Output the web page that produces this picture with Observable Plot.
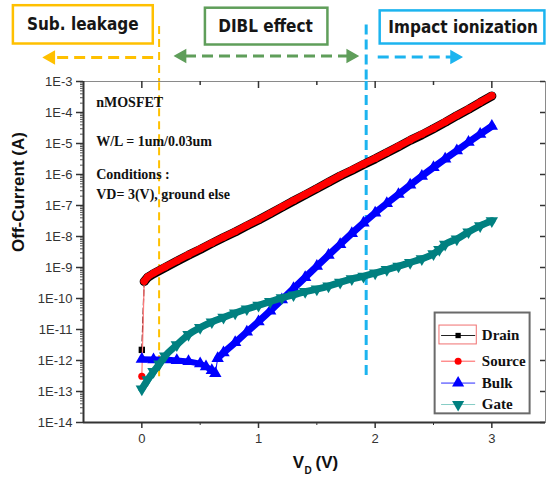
<!DOCTYPE html>
<html>
<head>
<meta charset="utf-8">
<script src="https://cdn.jsdelivr.net/npm/d3@7"></script>
<script src="https://cdn.jsdelivr.net/npm/@observablehq/plot@0.6"></script>
<style>
  body { margin: 0; background: #fff; }
  #chart { width: 546px; height: 479px; overflow: hidden; }
  #chart svg { display: block; overflow: visible; }
</style>
</head>
<body>
<div id="chart"></div>
<script>
// Off-state current of an nMOSFET (W/L = 1um/0.03um) versus drain voltage,
// measured at each terminal with VD = 3 V and everything else grounded.

const drainV = [0, 0.02, 0.05, 0.1, 0.2, 0.3, 0.4, 0.5, 0.6, 0.7, 0.8, 0.9, 1.0, 1.1, 1.2, 1.3, 1.4,
  1.5, 1.6, 1.7, 1.8, 1.9, 2.0, 2.1, 2.2, 2.3, 2.4, 2.5, 2.6, 2.7, 2.8, 2.9, 3.0];
const drainI = [2.2e-12, 3.5e-10, 4.8e-10, 6.3e-10, 1.0e-9, 1.6e-9, 2.5e-9, 3.8e-9, 6.0e-9, 9.3e-9,
  1.4e-8, 2.2e-8, 3.4e-8, 5.4e-8, 8.7e-8, 1.4e-7, 2.2e-7, 3.5e-7, 5.6e-7, 8.9e-7, 1.35e-6, 2.1e-6,
  3.2e-6, 5.0e-6, 7.9e-6, 1.26e-5, 1.9e-5, 3.0e-5, 4.8e-5, 7.9e-5, 1.26e-4, 2.1e-4, 3.4e-4];

const sourceV = drainV;
const sourceI = [3.1e-13, 3.6e-10, 5.0e-10, 6.6e-10, 1.05e-9, 1.65e-9, 2.6e-9, 4.0e-9, 6.2e-9, 9.6e-9,
  1.45e-8, 2.3e-8, 3.5e-8, 5.6e-8, 9.0e-8, 1.45e-7, 2.3e-7, 3.6e-7, 5.8e-7, 9.2e-7, 1.4e-6, 2.2e-6,
  3.3e-6, 5.2e-6, 8.2e-6, 1.3e-5, 2.0e-5, 3.1e-5, 5.0e-5, 8.1e-5, 1.3e-4, 2.15e-4, 3.5e-4];

const bulkV = [0, 0.1, 0.2, 0.3, 0.4, 0.5, 0.55, 0.6, 0.63, 0.65, 0.7, 0.8, 0.9, 1.0, 1.1, 1.2, 1.3,
  1.4, 1.5, 1.6, 1.7, 1.8, 1.9, 2.0, 2.1, 2.2, 2.3, 2.4, 2.5, 2.6, 2.7, 2.8, 2.9, 3.0];
const bulkI = [1.1e-12, 1.07e-12, 1.07e-12, 1.0e-12, 9.3e-13, 7.9e-13, 6.3e-13, 4.8e-13, 3.8e-13,
  1.17e-12, 1.8e-12, 3.8e-12, 8.3e-12, 1.8e-11, 4.0e-11, 9.1e-11, 2.1e-10, 4.8e-10, 1.1e-9, 2.5e-9,
  5.6e-9, 1.26e-8, 2.75e-8, 5.8e-8, 1.17e-7, 2.3e-7, 4.6e-7, 8.9e-7, 1.7e-6, 3.2e-6, 5.9e-6, 1.1e-5,
  2.0e-5, 3.6e-5];

const gateV = [0, 0.05, 0.1, 0.15, 0.2, 0.3, 0.4, 0.5, 0.6, 0.7, 0.8, 0.9, 1.0, 1.1, 1.2, 1.3, 1.4,
  1.5, 1.6, 1.7, 1.8, 1.9, 2.0, 2.1, 2.2, 2.3, 2.4, 2.5, 2.55, 2.6, 2.7, 2.8, 2.9, 3.0];
const gateI = [1.2e-13, 2.4e-13, 4.4e-13, 7.6e-13, 1.4e-12, 3.2e-12, 6.9e-12, 1.15e-11, 1.75e-11,
  2.45e-11, 3.4e-11, 4.6e-11, 6.0e-11, 7.9e-11, 1.05e-10, 1.3e-10, 1.66e-10, 2.0e-10, 2.5e-10,
  3.3e-10, 4.3e-10, 5.2e-10, 6.6e-10, 8.5e-10, 1.1e-9, 1.45e-9, 1.9e-9, 2.75e-9, 3.8e-9, 5.6e-9,
  8.3e-9, 1.4e-8, 2.2e-8, 3.2e-8];

const seriesNames = ["Drain", "Source", "Bulk", "Gate"];
const seriesColors = ["#000000", "#ff0000", "#0000ff", "#008080"];
const legendLineColors = ["#222222", "#ff5a5a", "#2a2aff", "#86cdc6"];

const xTicks = [0, 1, 2, 3];
const xTickLabels = ["0", "1", "2", "3"];
const xMinor = [-0.5, 0.5, 1.5, 2.5];
const yTicks = [1e-14, 1e-13, 1e-12, 1e-11, 1e-10, 1e-9, 1e-8, 1e-7, 1e-6, 1e-5, 1e-4, 1e-3];
const yTickLabels = ["1E-14", "1E-13", "1E-12", "1E-11", "1E-10", "1E-9", "1E-8", "1E-7", "1E-6",
  "1E-5", "1E-4", "1E-3"];
const xDomain = [-0.5, 3.46];
const yDomain = [1e-14, 1e-3];

const notes = ["nMOSFET", "W/L = 1um/0.03um", "Conditions :", "VD= 3(V), ground else"];
const regions = ["Sub. leakage", "DIBL effect", "Impact ionization"];
const regionColors = ["#ffc000", "#5f9e5a", "#1cb4ef"];

// ---- layout ----
const W = 546, HEAD = 81, H = 479 - HEAD;
const ML = 83, MR = 1, MT = 0, MB = 57;
const frameW = W - ML - MR, frameH = H - MT - MB;

const rows = (V, I) => V.map((v, k) => ({v, i: I[k]}));
const drain = rows(drainV, drainI);
const source = rows(sourceV, sourceI);
const bulk = rows(bulkV, bulkI);
const gate = rows(gateV, gateI);
const yMinor = d3.range(-14, -3).flatMap(e => d3.range(2, 10).map(k => k * 10 ** e));

// ---- header: regime boxes, arrows and boundary markers (y in px from top) ----
const boxes = [
  {x1: -1.101, x2: 0.098, y1: 5.2, y2: 43.5, xc: -0.506, yc: 24.5},
  {x1: 0.545, x2: 1.595, y1: 7.7, y2: 44.5, xc: 1.06, yc: 26},
  {x1: 2.043, x2: 3.455, y1: 10.4, y2: 43.5, xc: 2.754, yc: 27}
].map((b, k) => ({...b, label: regions[k], color: regionColors[k]}));
const arrows = [
  {x1: 0.097, x2: -0.76, y: 57, heads: [{x: -0.78, r: -90}]},
  {x1: 0.37, x2: 1.77, y: 55.5, heads: [{x: 0.345, r: -90}, {x: 1.79, r: 90}]},
  {x1: 2.022, x2: 2.66, y: 56.5, heads: [{x: 2.68, r: 90}]}
].map((a, k) => ({...a, color: regionColors[k]}));
const bounds = [
  {x: 0.148, top: 26, bottom: 3.0e-13, color: regionColors[0], dash: "8,5", w: 2},
  {x: 1.923, top: 24.5, bottom: 3.3e-13, color: regionColors[2], dash: "10,5", w: 3}
];

const headerFont = {fontFamily: "'DejaVu Sans Condensed', sans-serif",
  fontWeight: "bold", fontSize: 17, fill: "#161616"};

const header = Plot.plot({
  width: W, height: HEAD, marginLeft: ML, marginRight: MR, marginTop: 0, marginBottom: 0,
  x: {domain: xDomain, axis: null},
  y: {domain: [0, HEAD], range: [0, HEAD], axis: null},
  color: {type: "identity"},
  marks: [
    ...bounds.map(b => Plot.ruleX([b], {x: "x", y1: "top", y2: () => HEAD, stroke: b.color,
      strokeWidth: b.w, strokeDasharray: b.dash})),
    Plot.rect(boxes, {x1: "x1", x2: "x2", y1: "y1", y2: "y2", stroke: "color", fill: "white", strokeWidth: 2.5}),
    Plot.text(boxes, {x: "xc", y: "yc", text: "label", ...headerFont}),
    ...arrows.map(a => Plot.link([a], {x1: "x1", x2: "x2", y1: "y", y2: "y", stroke: a.color,
      strokeWidth: 3, strokeDasharray: "11,6"})),
    ...arrows.map(a => Plot.dot(a.heads, {x: "x", y: () => a.y, rotate: "r", symbol: "triangle",
      r: 4.5, fill: a.color, stroke: a.color}))
  ]
});

// ---- main chart ----
const legendY = [6.4e-12, 9.5e-13, 1.87e-13, 3.8e-14];
const legendRows = seriesNames.map((name, k) => ({name, y: legendY[k], line: legendLineColors[k], color: seriesColors[k]}));
const serif = {fontFamily: "Liberation Serif", fontWeight: "bold"};
const noteY = [2.06e-4, 1.15e-5, 1.0e-6, 2.2e-7];

const band = d => d.v >= 0.02;

const main = Plot.plot({
  width: W, height: H, marginTop: MT, marginBottom: MB, marginLeft: ML, marginRight: MR,
  x: {domain: xDomain, axis: null},
  y: {type: "log", domain: yDomain, axis: null},
  color: {type: "identity"},
  style: {fontFamily: "Liberation Sans", fontSize: "13px", color: "#333", background: "white"},
  marks: [
    Plot.frame({stroke: "#8a8a8a", strokeWidth: 1}),

    // region boundaries continuing into the plot area
    ...bounds.map(b => Plot.ruleX([b], {x: "x", y1: "bottom", y2: () => yDomain[1], stroke: b.color,
      strokeWidth: b.w, strokeDasharray: b.dash})),

    // Drain
    Plot.line(drain, {x: "v", y: "i", stroke: "#5a0000", strokeWidth: 1.2, strokeDasharray: "6,3"}),
    Plot.line(drain.filter(band), {x: "v", y: "i", stroke: "#000", strokeWidth: 9}),
    Plot.dot(drain, {x: "v", y: "i", symbol: "square", r: 3.6, fill: "#000"}),
    // Source
    Plot.line(source, {x: "v", y: "i", stroke: "#ff7c7c", strokeWidth: 1.2}),
    Plot.line(source.filter(band), {x: "v", y: "i", stroke: "#ff0000", strokeWidth: 7}),
    Plot.dot(source, {x: "v", y: "i", symbol: "circle", r: 3.6, fill: "#ff0000"}),
    // Bulk
    Plot.line(bulk, {x: "v", y: "i", stroke: "#0000ff", strokeWidth: 1}),
    Plot.line(bulk.filter(d => d.v <= 0.63), {x: "v", y: "i", stroke: "#0000ff", strokeWidth: 6}),
    Plot.line(bulk.filter(d => d.v >= 0.65), {x: "v", y: "i", stroke: "#0000ff", strokeWidth: 7}),
    Plot.dot(bulk, {x: "v", y: "i", symbol: "triangle", r: 4.6, fill: "#0000ff"}),
    // Gate
    Plot.line(gate, {x: "v", y: "i", stroke: "#008080", strokeWidth: 7, curve: "monotone-x"}),
    Plot.dot(gate, {x: "v", y: "i", symbol: "triangle", rotate: 180, r: 4.6, fill: "#008080"}),

    // axes
    Plot.ruleX([xDomain[0]], {stroke: "#333", strokeWidth: 2}),
    Plot.ruleY([yDomain[0]], {stroke: "#333", strokeWidth: 2}),
    Plot.axisY({ticks: yTicks, tickFormat: d => yTickLabels[yTicks.indexOf(d)], tickSize: 7,
      tickPadding: 4, strokeWidth: 1.5, stroke: "#333", fill: "#333", label: null, fontSize: 13}),
    Plot.axisY({ticks: yMinor, tickFormat: () => "", tickSize: 3, stroke: "#555", label: null}),
    Plot.axisX({ticks: xTicks, tickFormat: d => xTickLabels[xTicks.indexOf(d)], tickSize: 6,
      tickPadding: 5, strokeWidth: 1.5, stroke: "#333", fill: "#333", label: null, fontSize: 13}),
    Plot.axisX({ticks: xMinor.filter(d => d > xDomain[0]), tickFormat: () => "", tickSize: 3, stroke: "#333", label: null}),
    Plot.tickX(xTicks, {x: d => d, insetBottom: frameH - 7, stroke: "#333", strokeWidth: 1.5}),
    Plot.tickX(xMinor.filter(d => d > xDomain[0]), {x: d => d, insetBottom: frameH - 4, stroke: "#333", strokeWidth: 1.5}),
    Plot.tickY(yTicks, {y: d => d, insetLeft: frameW - 5, stroke: "#333", strokeWidth: 1.5}),

    // axis titles
    Plot.text(["Off-Current (A)"], {frameAnchor: "left", rotate: -90, dx: -65, fontSize: 17,
      fontWeight: "bold", fill: "#111"}),
    Plot.text(["V"], {frameAnchor: "bottom", dx: -16, dy: 45, fontSize: 17, fontWeight: "bold", fill: "#111"}),
    Plot.text(["D"], {frameAnchor: "bottom", dx: -6.5, dy: 51, fontSize: 10, fontWeight: "bold", fill: "#111"}),
    Plot.text(["(V)"], {frameAnchor: "bottom", dx: 1, dy: 45, textAnchor: "start", fontSize: 17,
      fontWeight: "bold", fill: "#111"}),

    // device notes
    Plot.text(notes, {x: () => -0.391, y: (d, k) => noteY[k], text: d => d, textAnchor: "start",
      fontSize: 14, fill: "#111", ...serif}),

    // legend
    Plot.rect([{}], {x1: () => 2.514, x2: () => 3.328, y1: () => 1.9e-14, y2: () => 3.4e-11,
      fill: "white", stroke: "#6a6a6a", strokeWidth: 2}),
    Plot.rect([{}], {x1: () => 2.551, x2: () => 2.871, y1: () => 3.3e-12, y2: () => 1.34e-11,
      fill: "none", stroke: "#f07070", strokeWidth: 1}),
    Plot.link(legendRows, {x1: () => 2.565, x2: () => 2.857, y1: "y", y2: "y", stroke: "line", strokeWidth: 1}),
    Plot.dot(legendRows.filter(d => d.name === "Drain"), {x: () => 2.711, y: "y", symbol: "square", r: 3, fill: "color"}),
    Plot.dot(legendRows.filter(d => d.name === "Source"), {x: () => 2.711, y: "y", symbol: "circle", r: 3.5, fill: "color"}),
    Plot.dot(legendRows.filter(d => d.name === "Bulk"), {x: () => 2.711, y: "y", symbol: "triangle", r: 4.5, fill: "color"}),
    Plot.dot(legendRows.filter(d => d.name === "Gate"), {x: () => 2.711, y: "y", symbol: "triangle", rotate: 180, r: 4.5, fill: "color"}),
    Plot.text(legendRows, {x: () => 2.914, y: "y", text: "name", textAnchor: "start", fontSize: 15,
      fill: "#111", ...serif})
  ]
});

const root = document.getElementById("chart");
root.append(header, main);
</script>
</body>
</html>
